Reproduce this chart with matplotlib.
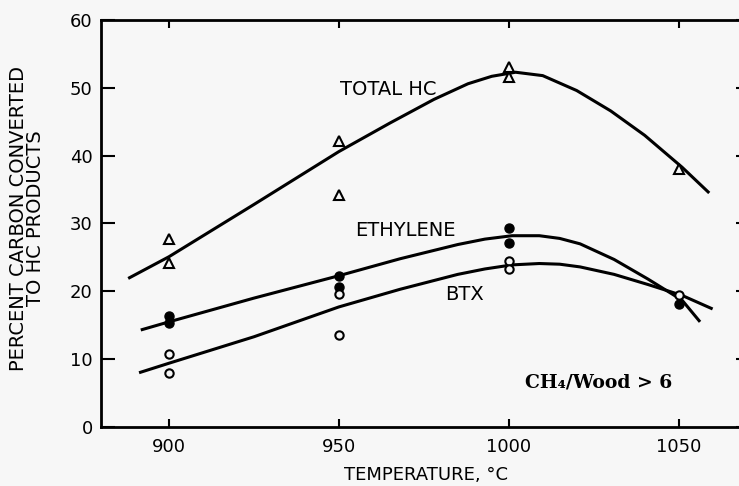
import numpy as np
import matplotlib
matplotlib.use('Agg')
import matplotlib.pyplot as plt

# measured points
temp_pts = [900, 900, 950, 950, 1000, 1000, 1050]
total_hc = [27.7, 24.2, 42.1, 34.2, 53.0, 51.6, 38.0]
ethylene = [16.4, 15.3, 22.3, 20.6, 29.3, 27.1, 18.2]
btx = [10.7, 7.9, 19.6, 13.6, 24.5, 23.3, 19.4]

# hand-drawn fit curves
total_curve_x = [888, 900, 925, 950, 965, 978, 988, 995, 1002, 1010, 1020, 1030, 1040, 1051, 1059]
total_curve_y = [21.9, 25.1, 32.8, 40.6, 44.8, 48.3, 50.6, 51.7, 52.3, 51.8, 49.6, 46.6, 43.0, 38.3, 34.5]
eth_curve_x = [891.7, 900, 925, 950, 968, 985, 993, 1001, 1009, 1015, 1021, 1031, 1041, 1051, 1056.3]
eth_curve_y = [14.3, 15.5, 19.0, 22.3, 24.8, 26.9, 27.7, 28.2, 28.2, 27.8, 27.0, 24.7, 21.8, 18.7, 15.5]
btx_curve_x = [891.2, 900, 925, 950, 968, 985, 993, 1001, 1009, 1015, 1021, 1031, 1041, 1051, 1060]
btx_curve_y = [8.0, 9.4, 13.3, 17.7, 20.3, 22.5, 23.3, 23.9, 24.1, 24.0, 23.6, 22.5, 21.0, 19.4, 17.4]

x_ticks = [900, 950, 1000, 1050]
y_ticks = [0, 10, 20, 30, 40, 50, 60]

bg = '#f7f7f7'
fig = plt.figure(figsize=(7.39, 4.86), dpi=100, facecolor=bg)
ax = fig.add_axes([101 / 739, 59 / 486, 649 / 739, 407 / 486], facecolor=bg)

lw = 2.2
for cx, cy in [(total_curve_x, total_curve_y), (eth_curve_x, eth_curve_y),
               (btx_curve_x, btx_curve_y)]:
    ax.plot(cx, cy, color='black', lw=lw, solid_capstyle='butt',
            solid_joinstyle='round')

ax.plot(temp_pts, total_hc, ls='none', marker='^', ms=7, mfc=bg, mec='black', mew=1.5)
ax.plot(temp_pts, ethylene, ls='none', marker='o', ms=6.5, mfc='black', mec='black')
ax.plot(temp_pts, btx, ls='none', marker='o', ms=6, mfc=bg, mec='black', mew=1.5)

ax.text(950.4, 49.7, 'TOTAL HC', fontsize=14, va='center', ha='left')
ax.text(954.9, 28.9, 'ETHYLENE', fontsize=14, va='center', ha='left')
ax.text(981.2, 19.6, 'BTX', fontsize=14, va='center', ha='left')
ax.text(1004.7, 6.5, 'CH\u2084/Wood > 6', fontsize=13.5, fontweight='bold',
        family=['DejaVu Serif', 'DejaVu Sans'], va='center', ha='left')

ax.set_xlim(880, 1071)
ax.set_ylim(0, 60)
ax.set_xticks(x_ticks)
ax.set_yticks(y_ticks)
ax.tick_params(axis='y', direction='in', length=10, width=1.5, labelsize=13, pad=6)
ax.tick_params(axis='y', which='major', right=True)
ax.tick_params(axis='x', direction='in', length=6, width=1.5, labelsize=13,
               top=True, pad=8)
for side in ['left', 'bottom', 'top']:
    ax.spines[side].set_linewidth(2)
ax.spines['right'].set_visible(False)

ax.set_xlabel('TEMPERATURE, \u00b0C', fontsize=13)
ax.xaxis.set_label_coords(0.5, -0.097)
ax.set_ylabel('PERCENT CARBON CONVERTED\nTO HC PRODUCTS', fontsize=14,
              linespacing=0.9)
ax.yaxis.set_label_coords(-0.086, 0.513)

fig.savefig('out.png', dpi=100, facecolor=bg)
